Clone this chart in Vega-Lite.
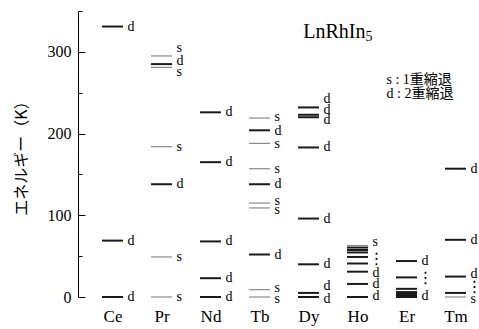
{
  "$schema": "https://vega.github.io/schema/vega-lite/v6.json",
  "width": 479,
  "height": 329,
  "autosize": {"type": "fit", "contains": "padding"},
  "padding": {"left": 13, "top": 10, "right": 0, "bottom": 5},
  "background": "white",
  "config": {"view": {"stroke": null}, "font": "Liberation Serif"},
  "datasets": {
    "levels": [
      {"ln": "Ce", "E": 0, "type": "d"}, {"ln": "Ce", "E": 69, "type": "d"}, {"ln": "Ce", "E": 331, "type": "d"},
      {"ln": "Pr", "E": 0, "type": "s"}, {"ln": "Pr", "E": 49, "type": "s"}, {"ln": "Pr", "E": 138, "type": "d"}, {"ln": "Pr", "E": 184, "type": "s"}, {"ln": "Pr", "E": 281, "type": "s"}, {"ln": "Pr", "E": 285, "type": "d"}, {"ln": "Pr", "E": 295, "type": "s"},
      {"ln": "Nd", "E": 0, "type": "d"}, {"ln": "Nd", "E": 23, "type": "d"}, {"ln": "Nd", "E": 68, "type": "d"}, {"ln": "Nd", "E": 165, "type": "d"}, {"ln": "Nd", "E": 226, "type": "d"},
      {"ln": "Tb", "E": 0, "type": "s"}, {"ln": "Tb", "E": 9, "type": "s"}, {"ln": "Tb", "E": 52, "type": "d"}, {"ln": "Tb", "E": 109, "type": "s"}, {"ln": "Tb", "E": 115, "type": "s"}, {"ln": "Tb", "E": 138, "type": "d"}, {"ln": "Tb", "E": 157, "type": "s"}, {"ln": "Tb", "E": 188, "type": "s"}, {"ln": "Tb", "E": 204, "type": "d"}, {"ln": "Tb", "E": 219, "type": "s"},
      {"ln": "Dy", "E": 0, "type": "d"}, {"ln": "Dy", "E": 5, "type": "d"}, {"ln": "Dy", "E": 40, "type": "d"}, {"ln": "Dy", "E": 96, "type": "d"}, {"ln": "Dy", "E": 183, "type": "d"}, {"ln": "Dy", "E": 220, "type": "d"}, {"ln": "Dy", "E": 223, "type": "d"}, {"ln": "Dy", "E": 232, "type": "d"},
      {"ln": "Ho", "E": 0, "type": "d"}, {"ln": "Ho", "E": 16, "type": "d"}, {"ln": "Ho", "E": 31, "type": "d"}, {"ln": "Ho", "E": 41, "type": "d"}, {"ln": "Ho", "E": 49, "type": "d"}, {"ln": "Ho", "E": 54.5, "type": "d"}, {"ln": "Ho", "E": 57.5, "type": "d"}, {"ln": "Ho", "E": 60.5, "type": "d"}, {"ln": "Ho", "E": 63, "type": "s"},
      {"ln": "Er", "E": 0, "type": "d"}, {"ln": "Er", "E": 1.5, "type": "d"}, {"ln": "Er", "E": 3, "type": "d"}, {"ln": "Er", "E": 4.5, "type": "d"}, {"ln": "Er", "E": 6, "type": "d"}, {"ln": "Er", "E": 10, "type": "d"}, {"ln": "Er", "E": 24, "type": "d"}, {"ln": "Er", "E": 44, "type": "d"},
      {"ln": "Tm", "E": 0, "type": "s"}, {"ln": "Tm", "E": 5, "type": "d"}, {"ln": "Tm", "E": 25, "type": "d"}, {"ln": "Tm", "E": 70, "type": "d"}, {"ln": "Tm", "E": 157, "type": "d"}
    ],
    "labels": [
      {"ln": "Ce", "E": 0, "text": "d"}, {"ln": "Ce", "E": 69, "text": "d"}, {"ln": "Ce", "E": 331, "text": "d"},
      {"ln": "Pr", "E": 0, "text": "s"}, {"ln": "Pr", "E": 49, "text": "s"}, {"ln": "Pr", "E": 138, "text": "d"}, {"ln": "Pr", "E": 184, "text": "s"}, {"ln": "Pr", "E": 275, "text": "s"}, {"ln": "Pr", "E": 289, "text": "d"}, {"ln": "Pr", "E": 305, "text": "s"},
      {"ln": "Nd", "E": 0, "text": "d"}, {"ln": "Nd", "E": 23, "text": "d"}, {"ln": "Nd", "E": 68, "text": "d"}, {"ln": "Nd", "E": 165, "text": "d"}, {"ln": "Nd", "E": 226, "text": "d"},
      {"ln": "Tb", "E": -2, "text": "s"}, {"ln": "Tb", "E": 11, "text": "s"}, {"ln": "Tb", "E": 52, "text": "d"}, {"ln": "Tb", "E": 106, "text": "s"}, {"ln": "Tb", "E": 118, "text": "s"}, {"ln": "Tb", "E": 138, "text": "d"}, {"ln": "Tb", "E": 157, "text": "s"}, {"ln": "Tb", "E": 187, "text": "s"}, {"ln": "Tb", "E": 203, "text": "d"}, {"ln": "Tb", "E": 220, "text": "s"},
      {"ln": "Dy", "E": -2, "text": "d"}, {"ln": "Dy", "E": 13, "text": "d"}, {"ln": "Dy", "E": 40, "text": "d"}, {"ln": "Dy", "E": 96, "text": "d"}, {"ln": "Dy", "E": 183, "text": "d"}, {"ln": "Dy", "E": 216, "text": "d"}, {"ln": "Dy", "E": 229, "text": "d"}, {"ln": "Dy", "E": 242, "text": "d"},
      {"ln": "Ho", "E": 1, "text": "d"}, {"ln": "Ho", "E": 16, "text": "d"}, {"ln": "Ho", "E": 29, "text": "d"}, {"ln": "Ho", "E": 67, "text": "s"},
      {"ln": "Er", "E": 1, "text": "d"}, {"ln": "Er", "E": 44, "text": "d"},
      {"ln": "Tm", "E": -3, "text": "s"}, {"ln": "Tm", "E": 28, "text": "d"}, {"ln": "Tm", "E": 70, "text": "d"}, {"ln": "Tm", "E": 157, "text": "d"}
    ],
    "dots": [
      {"ln": "Ho", "E": 46, "text": "⋮"}, {"ln": "Er", "E": 23, "text": "⋮"}, {"ln": "Tm", "E": 12, "text": "⋮"}
    ],
    "notes": [
      {"ln": "Ho", "E": 266, "text": "s : 1重縮退"},
      {"ln": "Ho", "E": 248, "text": "d : 2重縮退"}
    ]
  },
  "encoding": {
    "x": {
      "field": "ln", "type": "nominal",
      "sort": ["Ce", "Pr", "Nd", "Tb", "Dy", "Ho", "Er", "Tm"],
      "scale": {"type": "point", "padding": 0.592, "align": 0.595},
      "axis": {"title": null, "domain": false, "ticks": false, "grid": false, "labelAngle": 0, "labelFont": "Liberation Serif", "labelFontSize": 17, "labelColor": "black", "labelPadding": 11}
    },
    "y": {
      "field": "E", "type": "quantitative",
      "scale": {"domain": [0, 350], "nice": false},
      "axis": {
        "title": "エネルギー（K）", "titleFont": "Noto Sans CJK JP", "titleFontSize": 16, "titleFontWeight": "normal", "titleColor": "black", "titlePadding": 18,
        "values": [0, 50, 100, 150, 200, 250, 300, 350],
        "labelExpr": "datum.value % 100 === 0 ? datum.label : ''",
        "tickSize": {"condition": {"test": "datum.value % 100 === 0", "value": -7}, "value": -4},
        "labelPadding": 14, "grid": false, "domainColor": "black", "tickColor": "black",
        "labelFont": "Liberation Serif", "labelFontSize": 16, "labelColor": "black"
      }
    }
  },
  "layer": [
    {
      "data": {"name": "levels"},
      "transform": [{"filter": "datum.type === 's'"}],
      "mark": {"type": "tick", "size": 21, "thickness": 1.2, "color": "#8a8a8a", "opacity": 1}
    },
    {
      "data": {"name": "levels"},
      "transform": [{"filter": "datum.type === 'd'"}],
      "mark": {"type": "tick", "size": 21, "thickness": 2, "color": "#1a1a1a", "opacity": 1}
    },
    {
      "data": {"name": "labels"},
      "mark": {"type": "text", "align": "left", "baseline": "middle", "dx": 15, "font": "Liberation Serif", "fontSize": 14, "color": "black"},
      "encoding": {"text": {"field": "text"}}
    },
    {
      "data": {"name": "dots"},
      "mark": {"type": "text", "align": "center", "baseline": "middle", "dx": 19, "font": "DejaVu Sans", "fontSize": 16, "color": "black"},
      "encoding": {"text": {"field": "text"}}
    },
    {
      "data": {"name": "notes"},
      "mark": {"type": "text", "align": "left", "baseline": "middle", "dx": 29, "font": "'Liberation Serif', 'Noto Sans CJK JP'", "fontSize": 14, "color": "black"},
      "encoding": {"text": {"field": "text"}}
    },
    {
      "data": {"values": [{"ln": "Dy", "E": 324, "text": "LnRhIn"}]},
      "mark": {"type": "text", "align": "right", "baseline": "middle", "dx": 57, "font": "Liberation Serif", "fontSize": 20, "color": "black"},
      "encoding": {"text": {"field": "text"}}
    },
    {
      "data": {"values": [{"ln": "Dy", "E": 324, "text": "5"}]},
      "mark": {"type": "text", "align": "left", "baseline": "middle", "dx": 57, "dy": 5, "font": "Liberation Serif", "fontSize": 14, "color": "black"},
      "encoding": {"text": {"field": "text"}}
    }
  ]
}
